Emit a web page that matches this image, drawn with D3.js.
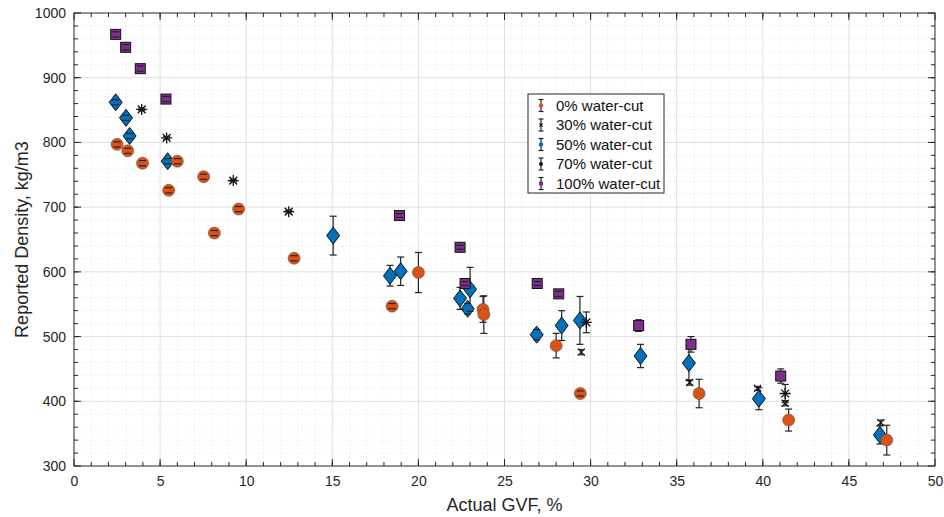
<!DOCTYPE html>
<html>
<head>
<meta charset="utf-8">
<script src="https://cdn.jsdelivr.net/npm/d3@7"></script>
<style>
  html, body { margin: 0; padding: 0; background: #fff; }
  svg { display: block; font-family: "Liberation Sans", Arial, Helvetica, sans-serif; }
</style>
</head>
<body>
<svg id="chart" width="944" height="517"></svg>
<script>
// ---------------- data ----------------
const xTickValues = [0, 5, 10, 15, 20, 25, 30, 35, 40, 45, 50];
const yTickValues = [300, 400, 500, 600, 700, 800, 900, 1000];

// 0% water-cut
const gvf0 = [2.5, 3.12, 3.98, 5.5, 6.0, 7.53, 8.15, 9.56, 12.78, 18.47, 20.0, 23.75, 23.8, 28.0, 29.4, 36.3, 41.5, 47.2];
const den0 = [797, 787, 768, 726, 771, 747, 660, 697, 621, 547, 599, 542, 534, 486, 412, 412, 371, 340];
const err0 = [4, 4, 4, 4, 4, 4, 4, 4, 4, 4, 31, 20, 29, 19, 4, 22, 17, 23];

// 30% water-cut
const gvf30 = [29.46, 35.75, 39.7, 41.3, 46.85];
const den30 = [476, 429, 420, 397, 367];
const err30 = [4, 4, 3, 4, 4];

// 50% water-cut
const gvf50 = [2.42, 3.02, 3.23, 5.44, 15.05, 18.35, 18.97, 22.42, 22.86, 23.0, 26.87, 28.32, 29.38, 32.9, 35.71, 39.77, 46.8];
const den50 = [862, 838, 810, 771, 656, 594, 601, 559, 543, 573, 503, 517, 525, 470, 459, 404, 348];
const err50 = [4, 4, 4, 4, 30, 16, 22, 17, 8, 34, 8, 23, 37, 18, 27, 17, 14];

// 70% water-cut
const gvf70 = [3.93, 5.38, 9.25, 12.47, 29.75, 41.3];
const den70 = [851, 807, 741, 693, 522, 412];
const err70 = [2, 2, 2, 2, 16, 14];

// 100% water-cut
const gvf100 = [2.42, 3.0, 3.85, 5.34, 18.9, 22.42, 22.71, 26.9, 28.15, 32.79, 35.83, 41.04];
const den100 = [967, 947, 914, 867, 687, 638, 582, 582, 566, 517, 488, 439];
const err100 = [4, 4, 4, 4, 3, 3, 3, 3, 4, 9, 12, 11];

const legendLabels = ["0% water-cut", "30% water-cut", "50% water-cut", "70% water-cut", "100% water-cut"];

// ---------------- layout ----------------
const svg = d3.select("#chart");
const L = 74, R = 935, T = 13, B = 466;
const x = d3.scaleLinear().domain([0, 50]).range([L, R]);
const y = d3.scaleLinear().domain([300, 1000]).range([B, T]);

const axisColor = "#262626";
const g = svg.append("g");

// minor grid (dotted)
const xMinor = d3.range(1, 50, 1).filter(v => v % 5 !== 0);
const yMinor = d3.range(320, 1000, 20).filter(v => v % 100 !== 0);
g.selectAll(".xminor").data(xMinor).enter().append("line")
  .attr("x1", d => x(d)).attr("x2", d => x(d)).attr("y1", T).attr("y2", B)
  .attr("stroke", "#dcdcdc").attr("stroke-width", 0.8).attr("stroke-dasharray", "1,3");
g.selectAll(".yminor").data(yMinor).enter().append("line")
  .attr("y1", d => y(d)).attr("y2", d => y(d)).attr("x1", L).attr("x2", R)
  .attr("stroke", "#dcdcdc").attr("stroke-width", 0.8).attr("stroke-dasharray", "1,3");
// major grid
g.selectAll(".xmajor").data(xTickValues.slice(1, -1)).enter().append("line")
  .attr("x1", d => x(d)).attr("x2", d => x(d)).attr("y1", T).attr("y2", B)
  .attr("stroke", "#e0e0e0").attr("stroke-width", 1);
g.selectAll(".ymajor").data(yTickValues.slice(1, -1)).enter().append("line")
  .attr("y1", d => y(d)).attr("y2", d => y(d)).attr("x1", L).attr("x2", R)
  .attr("stroke", "#e0e0e0").attr("stroke-width", 1);

// ---------------- series ----------------
const capW = 3.5;
function series(xs, ys, es, drawMarker, errColor) {
  const data = xs.map((v, i) => ({ x: v, y: ys[i], e: es[i] }));
  const sg = svg.append("g");
  sg.selectAll(".ev").data(data).enter().append("line")
    .attr("x1", d => x(d.x)).attr("x2", d => x(d.x))
    .attr("y1", d => y(d.y + d.e)).attr("y2", d => y(d.y - d.e))
    .attr("stroke", errColor).attr("stroke-width", 1.2);
  data.forEach(d => drawMarker(sg, x(d.x), y(d.y)));
  [1, -1].forEach(s => {
    sg.selectAll(".cap" + s).data(data).enter().append("line")
      .attr("x1", d => x(d.x) - capW).attr("x2", d => x(d.x) + capW)
      .attr("y1", d => y(d.y + s * d.e)).attr("y2", d => y(d.y + s * d.e))
      .attr("stroke", errColor).attr("stroke-width", 1.2);
  });
}

const circleM = (sg, cx, cy, r = 6) => sg.append("circle").attr("cx", cx).attr("cy", cy).attr("r", r)
  .attr("fill", "#D95319").attr("stroke", "#6b4a3a").attr("stroke-width", 0.6);
const diamondM = (sg, cx, cy, w = 6.5, h = 8.5) => sg.append("path")
  .attr("d", `M${cx},${cy - h}L${cx + w},${cy}L${cx},${cy + h}L${cx - w},${cy}Z`)
  .attr("fill", "#0072BD").attr("stroke", "#111").attr("stroke-width", 1);
const squareM = (sg, cx, cy, s = 5) => sg.append("rect")
  .attr("x", cx - s).attr("y", cy - s).attr("width", 2 * s).attr("height", 2 * s)
  .attr("fill", "#7E2F8E").attr("stroke", "#111").attr("stroke-width", 1);
const xM = (sg, cx, cy, s = 3.5) => sg.append("path")
  .attr("d", `M${cx - s},${cy - s}L${cx + s},${cy + s}M${cx - s},${cy + s}L${cx + s},${cy - s}`)
  .attr("stroke", "#111").attr("stroke-width", 1.2).attr("fill", "none");
const starM = (sg, cx, cy, s = 5.5) => {
  let p = "";
  for (let k = 0; k < 4; k++) {
    const a = k * Math.PI / 4;
    p += `M${cx - s * Math.cos(a)},${cy - s * Math.sin(a)}L${cx + s * Math.cos(a)},${cy + s * Math.sin(a)}`;
  }
  sg.append("path").attr("d", p).attr("stroke", "#111").attr("stroke-width", 1.3).attr("fill", "none");
};

series(gvf50, den50, err50, (sg, a, b) => diamondM(sg, a, b), "#222");
series(gvf0, den0, err0, (sg, a, b) => circleM(sg, a, b), "#222");
series(gvf30, den30, err30, (sg, a, b) => xM(sg, a, b), "#222");
series(gvf70, den70, err70, (sg, a, b) => starM(sg, a, b), "#222");
series(gvf100, den100, err100, (sg, a, b) => squareM(sg, a, b), "#222");

// ---------------- axes ----------------
const ax = svg.append("g");
ax.append("rect").attr("x", L).attr("y", T).attr("width", R - L).attr("height", B - T)
  .attr("fill", "none").attr("stroke", axisColor).attr("stroke-width", 1);

const xMinorAll = d3.range(1, 50, 1);
const yMinorAll = d3.range(320, 1000, 20);
function tickLines(vals, isX, len) {
  vals.forEach(v => {
    if (isX) {
      ax.append("line").attr("x1", x(v)).attr("x2", x(v)).attr("y1", B).attr("y2", B - len).attr("stroke", axisColor);
      ax.append("line").attr("x1", x(v)).attr("x2", x(v)).attr("y1", T).attr("y2", T + len).attr("stroke", axisColor);
    } else {
      ax.append("line").attr("y1", y(v)).attr("y2", y(v)).attr("x1", L).attr("x2", L + len).attr("stroke", axisColor);
      ax.append("line").attr("y1", y(v)).attr("y2", y(v)).attr("x1", R).attr("x2", R - len).attr("stroke", axisColor);
    }
  });
}
tickLines(xMinorAll, true, 4);
tickLines(xTickValues, true, 7);
tickLines(yMinorAll, false, 4);
tickLines(yTickValues, false, 7);

const xAxis = d3.axisBottom(x).tickValues(xTickValues).tickSize(0).tickPadding(10).tickFormat(d3.format("d"));
const yAxis = d3.axisLeft(y).tickValues(yTickValues).tickSize(0).tickPadding(8).tickFormat(d3.format("d"));
const xg = svg.append("g").attr("transform", `translate(0,${B})`).call(xAxis);
const yg = svg.append("g").attr("transform", `translate(${L},0)`).call(yAxis);
[xg, yg].forEach(a => {
  a.select(".domain").remove();
  a.selectAll("text").attr("font-size", 14).attr("fill", axisColor)
    .attr("font-family", "'Liberation Sans', Arial, sans-serif");
});

// axis labels
svg.append("text").attr("x", (L + R) / 2).attr("y", 511).attr("text-anchor", "middle")
  .attr("font-size", 18).attr("fill", axisColor).text("Actual GVF, %");
svg.append("text").attr("transform", `translate(28,${(T + B) / 2}) rotate(-90)`).attr("text-anchor", "middle")
  .attr("font-size", 18).attr("fill", axisColor).text("Reported Density, kg/m3");

// ---------------- legend ----------------
const lg = svg.append("g");
const lx = 528, ly = 94, lw = 136, lh = 99;
lg.append("rect").attr("x", lx).attr("y", ly).attr("width", lw).attr("height", lh)
  .attr("fill", "#fff").attr("stroke", axisColor).attr("stroke-width", 1);
const rowY = [105.5, 125, 144.5, 164, 183.5];
const legMarkers = [
  (sg, a, b) => sg.append("circle").attr("cx", a).attr("cy", b).attr("r", 2.2).attr("fill", "#D95319"),
  (sg, a, b) => xM(sg, a, b, 1.6),
  (sg, a, b) => sg.append("circle").attr("cx", a).attr("cy", b).attr("r", 2.2).attr("fill", "#0072BD"),
  (sg, a, b) => sg.append("circle").attr("cx", a).attr("cy", b).attr("r", 2).attr("fill", "#111"),
  (sg, a, b) => sg.append("rect").attr("x", a - 2).attr("y", b - 2).attr("width", 4).attr("height", 4).attr("fill", "#7E2F8E")
];
legendLabels.forEach((lab, i) => {
  const cy = rowY[i], cx = 541;
  lg.append("line").attr("x1", cx).attr("x2", cx).attr("y1", cy - 6).attr("y2", cy + 6).attr("stroke", "#222").attr("stroke-width", 1.2);
  lg.append("line").attr("x1", cx - 2.5).attr("x2", cx + 2.5).attr("y1", cy - 6).attr("y2", cy - 6).attr("stroke", "#222").attr("stroke-width", 1.2);
  lg.append("line").attr("x1", cx - 2.5).attr("x2", cx + 2.5).attr("y1", cy + 6).attr("y2", cy + 6).attr("stroke", "#222").attr("stroke-width", 1.2);
  legMarkers[i](lg, cx, cy);
  lg.append("text").attr("x", 556).attr("y", cy + 5).attr("font-size", 15).attr("fill", "#111").text(lab);
});
</script>
</body>
</html>
